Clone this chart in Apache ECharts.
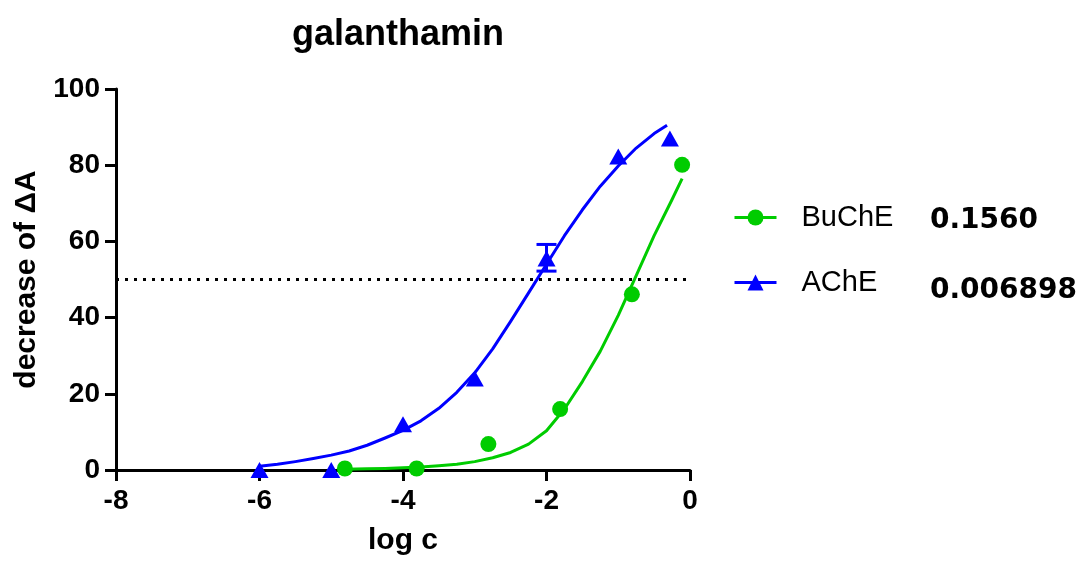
<!DOCTYPE html>
<html>
<head>
<meta charset="utf-8">
<script src="https://cdn.jsdelivr.net/npm/echarts@6/dist/echarts.min.js"></script>
<style>
  html, body { margin: 0; padding: 0; background: #fff; }
  #chart { width: 1088px; height: 561px; }
</style>
</head>
<body>
<div id="chart"></div>
<script>
// measured points (log c, decrease of ΔA)
const buchePoints = [[-4.81, 0.4], [-3.81, 0.4], [-2.81, 6.8], [-1.81, 16.0], [-0.81, 46.1], [-0.11, 80.1]];
const achePoints = [[-6.0, 0.0], [-5.0, 0.0], [-4.0, 12.0], [-3.0, 24.0], [-2.0, 55.5], [-1.0, 82.3], [-0.28, 87.0]];
// AChE error bar at log c = -2  [x, low, high]
const acheErrors = [[-2.0, 52.2, 59.2]];

// fitted curves
const bucheCurve = [[-4.81, 0.2], [-4.5, 0.3], [-4.25, 0.4], [-4.0, 0.6], [-3.75, 0.8], [-3.5, 1.1],
  [-3.25, 1.5], [-3.0, 2.2], [-2.75, 3.2], [-2.5, 4.6], [-2.25, 6.8], [-2.0, 10.3], [-1.75, 16.0],
  [-1.5, 23.2], [-1.25, 31.2], [-1.0, 40.6], [-0.75, 51.0], [-0.5, 61.5], [-0.25, 71.0], [-0.11, 76.5]];
const acheCurve = [[-6.0, 1.0], [-5.75, 1.5], [-5.5, 2.2], [-5.25, 3.0], [-5.0, 3.9], [-4.75, 5.0],
  [-4.5, 6.5], [-4.25, 8.4], [-4.0, 10.4], [-3.75, 12.9], [-3.5, 16.2], [-3.25, 20.4], [-3.0, 25.5],
  [-2.75, 31.8], [-2.5, 39.0], [-2.25, 46.5], [-2.0, 54.0], [-1.75, 61.5], [-1.5, 68.3], [-1.25, 74.5],
  [-1.0, 79.8], [-0.75, 84.5], [-0.5, 88.3], [-0.32, 90.5]];

const ic50Labels = ['0.1560', '0.006898'];
const cutoff = 50;

const GREEN = '#00cc00';
const BLUE = '#0000ff';
const FONT = '"Liberation Sans", Arial, sans-serif';

const chart = echarts.init(document.getElementById('chart'), null, { renderer: 'canvas' });

chart.setOption({
  animation: false,
  backgroundColor: '#fff',
  title: {
    text: 'galanthamin',
    left: 393,
    top: 12,
    textAlign: 'center',
    textStyle: { fontFamily: FONT, fontWeight: 'bold', fontSize: 36, color: '#000' },
  },
  grid: { left: 116, right: 398, top: 89, bottom: 90 },
  legend: {
    orient: 'vertical',
    left: 728,
    top: 198,
    itemGap: 36,
    itemWidth: 42,
    itemHeight: 20,
    data: ['BuChE', 'AChE'],
    lineStyle: { width: 3 },
    textStyle: { fontFamily: FONT, fontSize: 29, color: '#000', padding: [0, 0, 0, 20] },
  },
  graphic: [
    { type: 'text', left: 930, top: 207, style: { text: ic50Labels[0], font: 'bold 28px "DejaVu Sans"', fill: '#000' } },
    { type: 'text', left: 930, top: 277, style: { text: ic50Labels[1], font: 'bold 28px "DejaVu Sans"', fill: '#000' } },
  ],
  xAxis: {
    type: 'value',
    min: -8,
    max: 0,
    interval: 2,
    name: 'log c',
    nameLocation: 'middle',
    nameGap: 56,
    nameTextStyle: { fontFamily: FONT, fontWeight: 'bold', fontSize: 30, color: '#000' },
    axisLine: { onZero: false, lineStyle: { color: '#000', width: 3 } },
    axisTick: { length: 11, lineStyle: { color: '#000', width: 3 } },
    axisLabel: { margin: 17, fontFamily: FONT, fontWeight: 'bold', fontSize: 28, color: '#000' },
    splitLine: { show: false },
  },
  yAxis: {
    type: 'value',
    min: 0,
    max: 100,
    interval: 20,
    name: 'decrease of ΔA',
    nameLocation: 'middle',
    nameGap: 74,
    nameTextStyle: { fontFamily: FONT, fontWeight: 'bold', fontSize: 30, color: '#000' },
    axisLine: { show: true, onZero: false, lineStyle: { color: '#000', width: 3 } },
    axisTick: { show: true, length: 11, lineStyle: { color: '#000', width: 3 } },
    axisLabel: { margin: 16, fontFamily: FONT, fontWeight: 'bold', fontSize: 28, color: '#000' },
    splitLine: { show: false },
  },
  series: [
    {
      name: 'BuChE',
      type: 'line',
      data: bucheCurve,
      smooth: false,
      showSymbol: false,
      symbol: 'circle',
      symbolSize: 14,
      color: GREEN,
      lineStyle: { color: GREEN, width: 3, join: 'round' },
      markLine: {
        silent: true,
        symbol: 'none',
        label: { show: false },
        lineStyle: { color: '#000', type: [3, 6], width: 3 },
        data: [{ yAxis: cutoff }],
      },
      z: 3,
    },
    {
      name: 'AChE',
      type: 'line',
      data: acheCurve,
      smooth: false,
      showSymbol: false,
      symbol: 'triangle',
      symbolSize: 16,
      color: BLUE,
      lineStyle: { color: BLUE, width: 3, join: 'round' },
      z: 3,
    },
    {
      name: 'BuChE',
      type: 'scatter',
      data: buchePoints,
      symbol: 'circle',
      symbolSize: 16,
      itemStyle: { color: GREEN, opacity: 1 },
      z: 4,
    },
    {
      name: 'AChE',
      type: 'scatter',
      data: achePoints,
      symbol: 'triangle',
      symbolSize: [18, 16],
      itemStyle: { color: BLUE, opacity: 1 },
      z: 4,
    },
    {
      name: 'AChE',
      type: 'custom',
      data: acheErrors,
      z: 4,
      renderItem: (params, api) => {
        const lo = api.coord([api.value(0), api.value(1)]);
        const hi = api.coord([api.value(0), api.value(2)]);
        const half = 10;
        const style = { stroke: BLUE, lineWidth: 3 };
        return {
          type: 'group',
          children: [
            { type: 'line', shape: { x1: lo[0], y1: lo[1], x2: hi[0], y2: hi[1] }, style },
            { type: 'line', shape: { x1: lo[0] - half, y1: lo[1], x2: lo[0] + half, y2: lo[1] }, style },
            { type: 'line', shape: { x1: hi[0] - half, y1: hi[1], x2: hi[0] + half, y2: hi[1] }, style },
          ],
        };
      },
    },
  ],
});
</script>
</body>
</html>
